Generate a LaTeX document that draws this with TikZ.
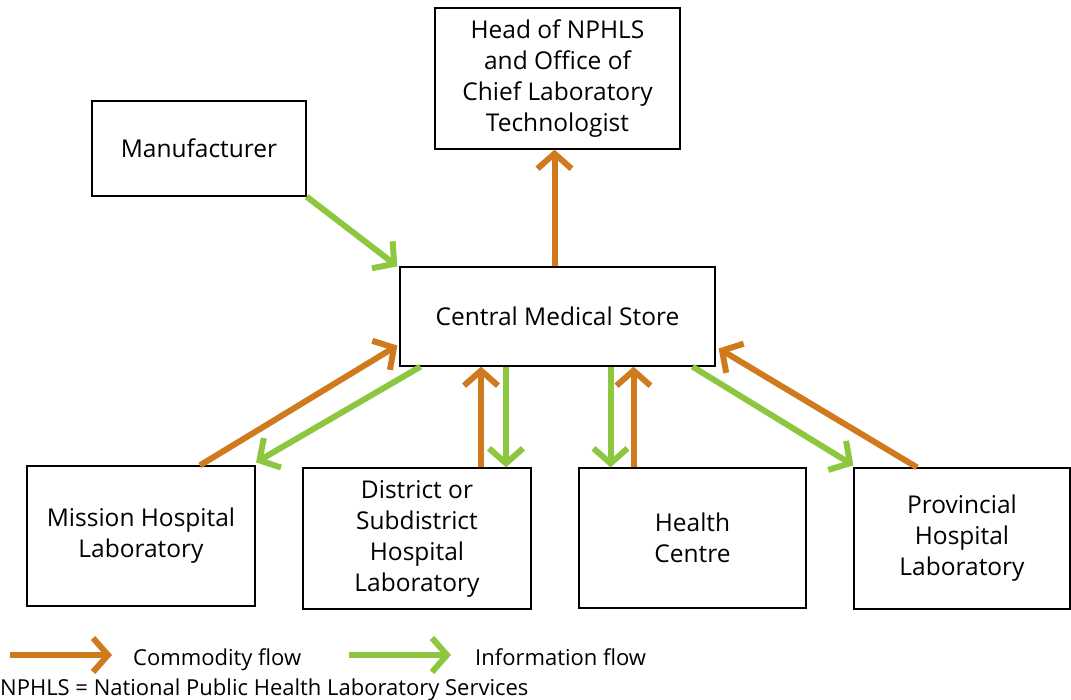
\documentclass[tikz,border=0pt]{standalone}
\usepackage{fontspec}
\setmainfont{Open Sans}
\usetikzlibrary{arrows.meta,calc}
\definecolor{com}{RGB}{207,122,28}
\definecolor{inf}{RGB}{141,198,63}
\tikzset{
  box/.style={draw=black,line width=1.3pt,inner sep=0pt,align=center,
    font=\fontsize{24.5}{31}\selectfont},
  flow/.style={line width=6pt,-{Straight Barb[length=15pt,width=34pt]}},
  comflow/.style={flow,draw=com},
  infflow/.style={flow,draw=inf},
  legtext/.style={anchor=base west,inner sep=0pt,font=\fontsize{22}{24}\selectfont}
}
\begin{document}
\begin{tikzpicture}[x=1pt,y=-1pt]
\useasboundingbox (0,0) rectangle (1071,700);
\node[box,minimum width=245pt,minimum height=141pt] (head) at (557.5,78.5)
  {Head of NPHLS\\and Office of\\Chief Laboratory\\Technologist};
\node[box,minimum width=214pt,minimum height=95pt] (manu) at (199,148.5) {Manufacturer};
\node[box,minimum width=315pt,minimum height=99pt] (cms) at (557.5,316.5) {Central Medical Store};
\node[box,minimum width=228pt,minimum height=140pt] (miss) at (141,536) {Mission Hospital\\Laboratory};
\node[box,minimum width=228pt,minimum height=141pt] (dist) at (417,538.5) {District or\\Subdistrict\\Hospital\\Laboratory};
\node[box,minimum width=227pt,minimum height=140pt] (hc) at (692.5,538) {Health\\Centre};
\node[box,minimum width=216pt,minimum height=141pt] (prov) at (962,538.5) {Provincial\\Hospital\\Laboratory};

% Manufacturer -> CMS
\draw[infflow] (manu.south east) -- ([xshift=-2pt]cms.north west);
% CMS -> Head
\draw[comflow] ([xshift=-3pt]cms.north) -- ([xshift=-3pt]head.south);
% Mission <-> CMS
\draw[comflow] ([xshift=59pt]miss.north) -- ([xshift=-2pt,yshift=-29pt]cms.west);
\draw[infflow] ([xshift=-137pt]cms.south) -- ([xshift=115pt,yshift=3pt]miss.north);
% District <-> CMS
\draw[comflow] ([xshift=64pt]dist.north) -- ([xshift=64pt]dist.north |- cms.south);
\draw[infflow] ([xshift=89pt]dist.north |- cms.south) -- ([xshift=89pt]dist.north);
% Health Centre <-> CMS
\draw[infflow] ([xshift=-82pt]hc.north |- cms.south) -- ([xshift=-82pt]hc.north);
\draw[comflow] ([xshift=-59pt]hc.north) -- ([xshift=-59pt]hc.north |- cms.south);
% Provincial <-> CMS
\draw[infflow] ([xshift=135pt]cms.south) -- ([xshift=0pt,yshift=2pt]prov.north west);
\draw[comflow] ([xshift=-45pt]prov.north) -- ([xshift=3pt,yshift=-32pt]cms.east);

% Legend
\node[legtext] (lcom) at (133,665) {Commodity flow};
\node[legtext] (linf) at (475,665) {Information flow};
\coordinate (lcs) at (10,655);
\coordinate (lis) at (349,655);
\draw[comflow] (lcs) -- ([xshift=-21pt]lcom.west |- lcs);
\draw[infflow] (lis) -- ([xshift=-24pt]linf.west |- lis);
\node[legtext] (foot) at (0,695) {NPHLS = National Public Health Laboratory Services};
\end{tikzpicture}
\end{document}
